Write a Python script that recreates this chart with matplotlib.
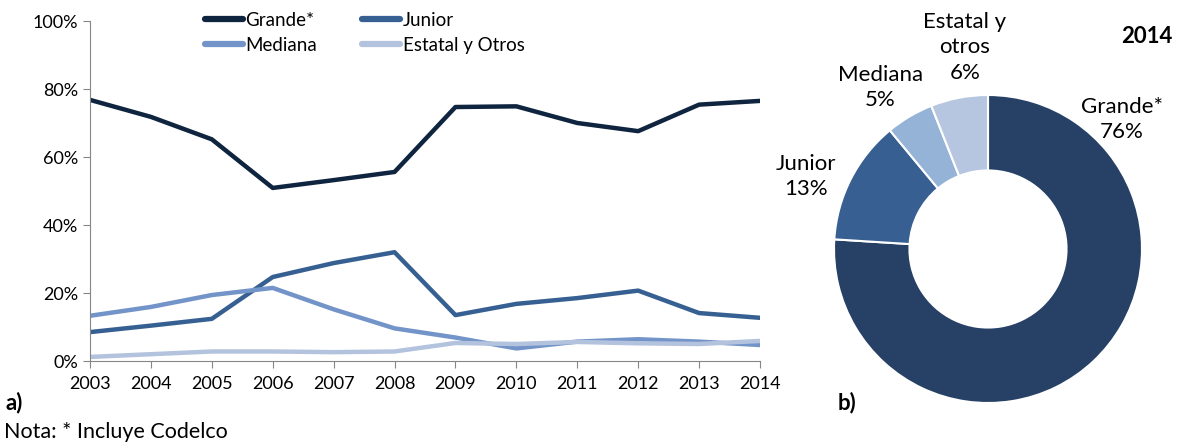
import matplotlib
matplotlib.use("Agg")
import matplotlib.pyplot as plt
from matplotlib.ticker import FuncFormatter

plt.rcParams['font.family'] = ['Lato', 'DejaVu Sans']

years = [2003, 2004, 2005, 2006, 2007, 2008, 2009, 2010, 2011, 2012, 2013, 2014]
grande = [76.8, 71.8, 65.2, 50.9, 53.2, 55.6, 74.7, 74.9, 70.0, 67.6, 75.4, 76.5]
junior = [8.5, 10.4, 12.4, 24.7, 28.8, 32.0, 13.5, 16.8, 18.5, 20.7, 14.1, 12.7]
mediana = [13.3, 15.9, 19.4, 21.5, 15.2, 9.6, 6.9, 3.7, 5.7, 6.4, 5.7, 4.7]
estatal = [1.2, 2.0, 2.8, 2.8, 2.6, 2.8, 5.3, 5.0, 5.6, 5.2, 5.0, 5.9]
series_names = ["Grande*", "Junior", "Mediana", "Estatal y Otros"]
line_colors = ["#0F243E", "#376092", "#7394C8", "#B3C3DE"]

pie_labels = ["Grande*\n76%", "Junior\n13%", "Mediana\n5%", "Estatal y\notros\n6%"]
pie_values = [76, 13, 5, 6]
pie_colors = ["#264066", "#375F92", "#95B3D7", "#B7C6E0"]

fig = plt.figure(figsize=(11.82, 4.45), dpi=100)

ax = fig.add_axes([90/1182, 84/445, 670/1182, 340/445])
handles = []
for vals, name, c in zip([grande, junior, mediana, estatal], series_names, line_colors):
    h, = ax.plot(years, vals, color=c, lw=3.2, solid_capstyle='round', solid_joinstyle='round', label=name)
    handles.append(h)
ax.set_xlim(2003, 2014)
ax.set_ylim(0, 100)
ax.set_xticks(years)
ax.set_yticks(range(0, 101, 20))
ax.yaxis.set_major_formatter(FuncFormatter(lambda v, p: f"{int(v)}%"))
for s in ['top', 'right']:
    ax.spines[s].set_visible(False)
for s in ['left', 'bottom']:
    ax.spines[s].set_color('#868686')
ax.tick_params(axis='both', colors='#868686', labelcolor='black', labelsize=13, length=5, direction='out')
ax.tick_params(axis='x', pad=6)
order = [0, 2, 1, 3]
leg = ax.legend([handles[i] for i in order], [series_names[i] for i in order],
                ncol=2, loc='upper left', bbox_to_anchor=(0.158, 1.055), frameon=False,
                borderpad=0, fontsize=13.5, handlelength=2.0, handletextpad=0.15,
                columnspacing=2.4, labelspacing=0.42)
for h in leg.get_lines():
    h.set_linewidth(4.5)
    h.set_solid_capstyle('round')

cx, cy, r = 988, 249, 154
pax = fig.add_axes([(cx - r)/1182, (445 - cy - r)/445, 2*r/1182, 2*r/445])
pax.pie(pie_values, colors=pie_colors, startangle=90, counterclock=False, radius=1,
        wedgeprops=dict(width=0.49, edgecolor='white', linewidth=1.5))
pax.set_xlim(-1, 1)
pax.set_ylim(-1, 1)
pax.set_aspect('equal')
pax.axis('off')
label_pos = [(0.87, 0.84), (-1.18, 0.47), (-0.70, 1.05), (-0.15, 1.31)]
for t, (x, y) in zip(pie_labels, label_pos):
    pax.text(x, y, t, ha='center', va='center', fontsize=16, linespacing=1.35, clip_on=False)
pax.text(1.03, 1.38, "2014", ha='center', va='center', fontsize=16, fontweight='bold', clip_on=False)

fig.text(6/1182, 1 - 403/445, "a)", fontsize=16, fontweight='bold', va='center', ha='left')
fig.text(838/1182, 1 - 403/445, "b)", fontsize=16, fontweight='bold', va='center', ha='left')
fig.text(4/1182, 1 - 432/445, "Nota: * Incluye Codelco", fontsize=15.5, va='center', ha='left')

fig.savefig("out.png", dpi=100)
